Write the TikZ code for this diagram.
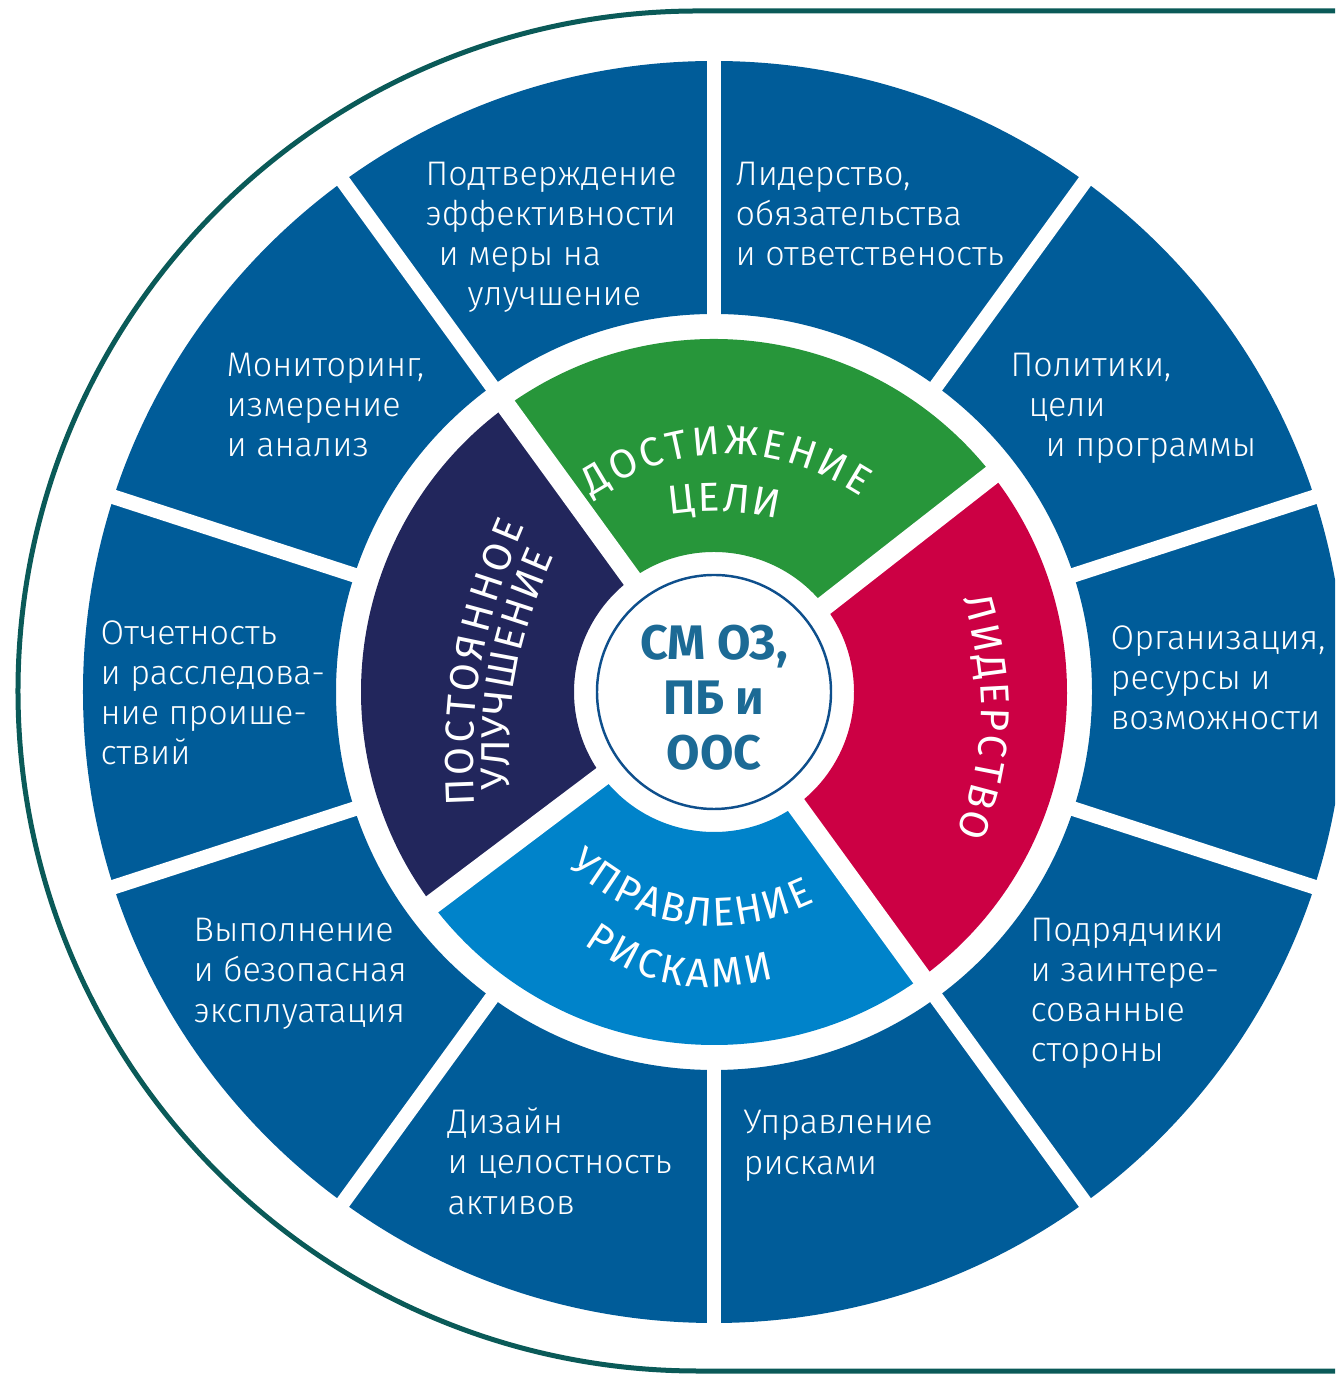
\documentclass[tikz,border=0pt]{standalone}
\usepackage{fontspec}
\setmainfont{Fira Sans Light}
\newfontfamily\ringfont{Fira Sans}
\newfontfamily\hubfont{Fira Sans Bold}
\usetikzlibrary{decorations.text}
\definecolor{ringblue}{RGB}{0,92,153}
\definecolor{goalgreen}{RGB}{39,150,58}
\definecolor{leadred}{RGB}{204,0,68}
\definecolor{riskblue}{RGB}{0,131,202}
\definecolor{improvenavy}{RGB}{34,38,92}
\definecolor{hubtextblue}{RGB}{28,106,149}
\definecolor{hubline}{RGB}{14,79,140}
\definecolor{bordergreen}{RGB}{10,90,88}
\begin{document}
\begin{tikzpicture}
                [segment/.style={text=white, align=left, anchor=base west, inner sep=0pt, font=\fontsize{9.7}{11.4}\selectfont},
                 gapline/.style={draw=white, line width=0.147cm},
                 innergap/.style={draw=white, line width=0.2cm},
                 ringtext/.style={decorate, decoration={text along path, text align=fit to path, text color=white,
                   text={|\ringfont\fontsize{11.5}{13}\selectfont|#1}}}]
                \useasboundingbox (-7.14,-6.83) rectangle (6.21,6.92);
                \clip (-7.14,-6.83) rectangle (6.21,6.92);
                % Define frame and rings
                \draw[bordergreen, line width=0.05cm] (6.4,6.81) -- (-0.16,6.81) arc[start angle=90, end angle=270, radius=6.80] -- (6.4,-6.79);
                \fill[ringblue, even odd rule] (0,0) circle (6.31) (0,0) circle (3.78);
                \foreach \a/\b/\col in {-54/38/leadred, 38/126/goalgreen, 126/217/improvenavy, 217/306/riskblue}
                  \fill[\col] (\a:1.40) arc[start angle=\a, end angle=\b, radius=1.40]
                    -- (\b:3.53) arc[start angle=\b, end angle=\a, radius=3.53] -- cycle;
                \foreach \a in {18,54,...,342}
                  \draw[gapline] (\a:3.6) -- (\a:6.5);
                \foreach \a in {38,126,217,306}
                  \draw[innergap] (\a:1.25) -- (\a:3.7);
                % Define hub
                \node[circle, draw=hubline, line width=0.7pt, minimum size=2.34cm, inner sep=0pt] (hub) at (0,0) {};
                \node[text=hubtextblue, align=center, font=\hubfont\fontsize{13.8}{15.6}\selectfont] (hub label) at (0,-0.06) {СМ ОЗ,\\ПБ и\\ООС};
                % Define inner ring labels
                \coordinate (goal a) at (-1.22,1.95);
                \coordinate (goal b) at (1.47,1.95);
                \coordinate (goal c) at (-0.44,1.77);
                \coordinate (goal d) at (0.64,1.73);
                \coordinate (lead a) at (2.49,0.93);
                \coordinate (lead b) at (2.43,-1.42);
                \coordinate (risk a) at (-1.46,-1.74);
                \coordinate (risk b) at (1.01,-2.10);
                \coordinate (risk c) at (-1.30,-2.52);
                \coordinate (risk d) at (0.60,-2.86);
                \coordinate (improve a) at (-2.39,-1.14);
                \coordinate (improve b) at (-1.89,1.66);
                \coordinate (improve c) at (-2.04,-0.98);
                \coordinate (improve d) at (-1.60,1.36);
                \path[ringtext=ДОСТИЖЕНИЕ] (goal a) to[bend left=33] (goal b);
                \path[ringtext=ЦЕЛИ] (goal c) to[bend left=10] (goal d);
                \path[ringtext=ЛИДЕРСТВО] (lead a) to[bend left=18] (lead b);
                \path[ringtext=УПРАВЛЕНИЕ] (risk a) to[bend right=34] (risk b);
                \path[ringtext=РИСКАМИ] (risk c) to[bend right=25] (risk d);
                \path[ringtext=ПОСТОЯННОЕ] (improve a) to[bend left=13] (improve b);
                \path[ringtext=УЛУЧШЕНИЕ] (improve c) to[bend left=13] (improve d);
                % Define outer ring labels
                \node[segment] (verify) at (-2.89,3.86) {Подтверждение\\эффективности\\\hspace*{0.13cm}и меры на\\\hspace*{0.42cm}улучшение};
                \node[segment] (leadership) at (0.21,4.26) {Лидерство,\\обязательства\\и ответственость};
                \node[segment] (monitoring) at (-4.88,2.35) {Мониторинг,\\измерение\\и анализ};
                \node[segment] (policies) at (2.96,2.35) {Политики,\\\hspace*{0.18cm}цели\\\hspace*{0.35cm}и программы};
                \node[segment] (reporting) at (-6.14,-0.73) {Отчетность\\и расследова-\\ние проише-\\ствий};
                \node[segment] (resources) at (3.96,-0.38) {Организация,\\ресурсы и\\возможности};
                \node[segment] (operation) at (-5.21,-3.30) {Выполнение\\и безопасная\\эксплуатация};
                \node[segment] (contractors) at (3.16,-3.70) {Подрядчики\\и заинтере-\\сованные\\стороны};
                \node[segment] (design) at (-2.67,-5.22) {Дизайн\\и целостность\\активов};
                \node[segment] (risks) at (0.29,-4.82) {Управление\\рисками};
\end{tikzpicture}
\end{document}
